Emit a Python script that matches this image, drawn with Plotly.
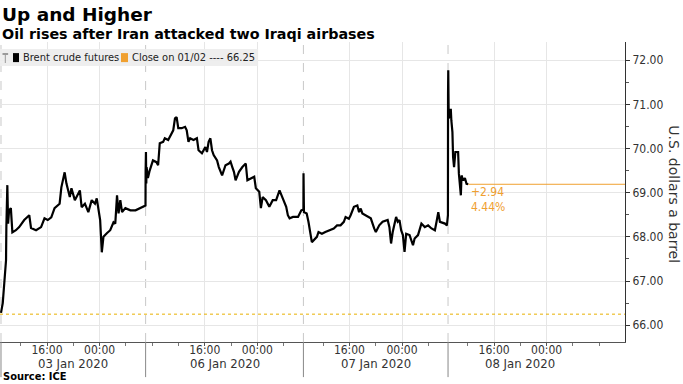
import plotly.graph_objects as go

# ---------------- data ----------------
title = "Up and Higher"
subtitle = "Oil rises after Iran attacked two Iraqi airbases"
source = "Source: ICE"
series_name = "Brent crude futures"
prev_close_label = "Close on 01/02"
prev_close = 66.25
last_change = 2.94
last_change_pct = 4.44
y_title = "U.S. dollars a barrel"

times = [
    # 03 Jan session
    "2020-01-03 09:00", "2020-01-03 09:16", "2020-01-03 09:30", "2020-01-03 09:40", "2020-01-03 09:46",
    "2020-01-03 09:49", "2020-01-03 09:58", "2020-01-03 10:05", "2020-01-03 10:14", "2020-01-03 10:30",
    "2020-01-03 10:44", "2020-01-03 11:16", "2020-01-03 11:46", "2020-01-03 12:32", "2020-01-03 13:18",
    "2020-01-03 13:34", "2020-01-03 14:20", "2020-01-03 15:06", "2020-01-03 15:37", "2020-01-03 16:07",
    "2020-01-03 16:39", "2020-01-03 17:09", "2020-01-03 17:55", "2020-01-03 18:11", "2020-01-03 18:41",
    "2020-01-03 18:57", "2020-01-03 19:28", "2020-01-03 19:43", "2020-01-03 20:14", "2020-01-03 21:00",
    "2020-01-03 21:16", "2020-01-03 21:46", "2020-01-03 22:17", "2020-01-03 22:48", "2020-01-03 23:18",
    "2020-01-03 23:34", "2020-01-03 23:58", "2020-01-04 00:05", "2020-01-04 00:20", "2020-01-04 00:35",
    "2020-01-04 01:06", "2020-01-04 01:37", "2020-01-04 02:07", "2020-01-04 02:23", "2020-01-04 02:39",
    "2020-01-04 02:53", "2020-01-04 03:09", "2020-01-04 03:25", "2020-01-04 03:55", "2020-01-04 04:41",
    "2020-01-04 05:28", "2020-01-04 06:14", "2020-01-04 06:44", "2020-01-04 06:59",
    # 06 Jan session
    "2020-01-06 07:00", "2020-01-06 07:03", "2020-01-06 07:06", "2020-01-06 07:09", "2020-01-06 07:21",
    "2020-01-06 07:37", "2020-01-06 08:07", "2020-01-06 08:39", "2020-01-06 08:54", "2020-01-06 09:09",
    "2020-01-06 09:40", "2020-01-06 09:55", "2020-01-06 10:26", "2020-01-06 10:42", "2020-01-06 11:12",
    "2020-01-06 11:28", "2020-01-06 11:43", "2020-01-06 11:58", "2020-01-06 12:29", "2020-01-06 13:00",
    "2020-01-06 13:15", "2020-01-06 13:31", "2020-01-06 13:46", "2020-01-06 14:17", "2020-01-06 14:48",
    "2020-01-06 15:03", "2020-01-06 15:34", "2020-01-06 16:05", "2020-01-06 16:20", "2020-01-06 16:35",
    "2020-01-06 16:51", "2020-01-06 17:06", "2020-01-06 17:21", "2020-01-06 17:52", "2020-01-06 18:08",
    "2020-01-06 18:38", "2020-01-06 19:09", "2020-01-06 19:40", "2020-01-06 19:55", "2020-01-06 20:11",
    "2020-01-06 20:26", "2020-01-06 20:41", "2020-01-06 21:12", "2020-01-06 21:43", "2020-01-06 22:14",
    "2020-01-06 22:29", "2020-01-06 23:00", "2020-01-06 23:31", "2020-01-06 23:46", "2020-01-07 00:17",
    "2020-01-07 00:32", "2020-01-07 00:48", "2020-01-07 01:18", "2020-01-07 01:49", "2020-01-07 02:20",
    "2020-01-07 02:51", "2020-01-07 03:22", "2020-01-07 03:52", "2020-01-07 04:23", "2020-01-07 04:38",
    "2020-01-07 04:54", "2020-01-07 05:25", "2020-01-07 06:11", "2020-01-07 06:41", "2020-01-07 06:59",
    # 07 Jan session
    "2020-01-07 09:00", "2020-01-07 09:01", "2020-01-07 09:03", "2020-01-07 09:05", "2020-01-07 09:30",
    "2020-01-07 09:46", "2020-01-07 10:17", "2020-01-07 10:32", "2020-01-07 11:03", "2020-01-07 11:18",
    "2020-01-07 11:49", "2020-01-07 12:20", "2020-01-07 13:06", "2020-01-07 13:37", "2020-01-07 14:07",
    "2020-01-07 14:39", "2020-01-07 15:09", "2020-01-07 15:25", "2020-01-07 15:55", "2020-01-07 16:11",
    "2020-01-07 16:41", "2020-01-07 17:12", "2020-01-07 17:28", "2020-01-07 17:43", "2020-01-07 17:58",
    "2020-01-07 18:29", "2020-01-07 19:00", "2020-01-07 19:15", "2020-01-07 19:46", "2020-01-07 20:01",
    "2020-01-07 20:32", "2020-01-07 21:03", "2020-01-07 21:49", "2020-01-07 22:05", "2020-01-07 22:20",
    "2020-01-07 22:35", "2020-01-07 23:06", "2020-01-07 23:21", "2020-01-07 23:37", "2020-01-07 23:52",
    "2020-01-08 00:08", "2020-01-08 00:23", "2020-01-08 00:38", "2020-01-08 01:09", "2020-01-08 01:40",
    "2020-01-08 01:55", "2020-01-08 02:26", "2020-01-08 02:57", "2020-01-08 03:28", "2020-01-08 03:58",
    "2020-01-08 04:29", "2020-01-08 05:00", "2020-01-08 05:15", "2020-01-08 05:31", "2020-01-08 05:46",
    "2020-01-08 06:32", "2020-01-08 06:50", "2020-01-08 06:59",
    # 08 Jan session
    "2020-01-08 09:00", "2020-01-08 09:02", "2020-01-08 09:06", "2020-01-08 09:16", "2020-01-08 09:25",
    "2020-01-08 09:30", "2020-01-08 09:40", "2020-01-08 09:46", "2020-01-08 09:55", "2020-01-08 10:07",
    "2020-01-08 10:32", "2020-01-08 10:39", "2020-01-08 10:48", "2020-01-08 10:57", "2020-01-08 11:03",
    "2020-01-08 11:18", "2020-01-08 11:34", "2020-01-08 11:49", "2020-01-08 12:05",
]

prices = [
    # 03 Jan session
    66.28, 66.50, 66.95, 67.40, 67.47,
    68.22, 69.17, 68.30, 68.60, 68.65,
    68.10, 68.15, 68.22, 68.38, 68.49,
    68.20, 68.15, 68.22, 68.42, 68.38,
    68.44, 68.65, 68.75, 69.12, 69.46,
    69.21, 68.90, 69.10, 68.83, 69.05,
    68.67, 68.75, 68.56, 68.83, 68.75,
    68.87, 68.56, 68.38, 67.65, 68.00,
    68.08, 68.15, 68.33, 68.30, 68.94,
    68.53, 68.83, 68.56, 68.65, 68.60,
    68.60, 68.65, 68.68, 68.71,
    # 06 Jan session
    69.50, 69.92, 69.21, 69.58, 69.33,
    69.50, 69.73, 69.69, 69.62, 70.12,
    70.15, 70.23, 70.19, 70.26, 70.41,
    70.68, 70.71, 70.46, 70.46, 70.49,
    70.41, 70.15, 70.23, 70.19, 70.23,
    69.96, 69.89, 70.03, 69.92, 70.15,
    70.23, 69.96, 69.85, 69.73, 69.58,
    69.39, 69.62, 69.66, 69.70, 69.58,
    69.47, 69.28, 69.47, 69.58, 69.66,
    69.28, 69.33, 69.36, 69.10, 69.02,
    68.65, 68.90, 68.83, 68.68, 68.83,
    68.83, 69.05, 68.87, 68.68, 68.49,
    68.42, 68.45, 68.45, 68.60, 68.62,
    # 07 Jan session
    68.65, 69.44, 68.60, 68.56, 68.53,
    68.34, 67.88, 67.92, 68.00, 68.11,
    68.07, 68.11, 68.15, 68.19, 68.26,
    68.26, 68.34, 68.45, 68.41, 68.49,
    68.68, 68.71, 68.56, 68.64, 68.53,
    68.49, 68.45, 68.42, 68.19, 68.11,
    68.26, 68.34, 68.38, 68.22, 67.85,
    68.11, 68.45, 68.34, 68.38, 68.15,
    68.04, 67.66, 68.07, 68.04, 67.81,
    67.96, 68.04, 68.30, 68.22, 68.26,
    68.19, 68.15, 68.34, 68.56, 68.34,
    68.30, 68.26, 68.49,
    # 08 Jan session
    71.24, 71.77, 70.68, 70.83, 70.90,
    70.64, 70.37, 69.81, 69.58, 69.92,
    69.92, 69.43, 69.20, 68.94, 69.39,
    69.28, 69.33, 69.20, 69.19,
]

# session starts (dashed lines) and date labels
session_starts = ["2020-01-03 09:00", "2020-01-06 07:00", "2020-01-07 09:00", "2020-01-08 09:00"]
session_mids = ["2020-01-03 20:00", "2020-01-06 19:00", "2020-01-07 20:00", "2020-01-08 20:00"]
session_labels = ["03 Jan 2020", "06 Jan 2020", "07 Jan 2020", "08 Jan 2020"]

tick_times = ["2020-01-03 16:00", "2020-01-04 00:00", "2020-01-06 16:00", "2020-01-07 00:00",
              "2020-01-07 16:00", "2020-01-08 00:00", "2020-01-08 16:00", "2020-01-09 00:00"]
tick_labels = ["16:00", "00:00", "16:00", "00:00", "16:00", "00:00", "16:00", "00:00"]
minor_times = ["2020-01-03 12:00", "2020-01-03 20:00", "2020-01-04 04:00",
               "2020-01-06 08:00", "2020-01-06 12:00", "2020-01-06 20:00", "2020-01-07 04:00",
               "2020-01-07 12:00", "2020-01-07 20:00", "2020-01-08 04:00",
               "2020-01-08 12:00", "2020-01-08 20:00", "2020-01-09 04:00", "2020-01-09 08:00"]
x_range = ["2020-01-03 08:51", "2020-01-09 11:55"]
y_range = [65.62, 72.41]
y_ticks = [66, 67, 68, 69, 70, 71, 72]

# ---------------- styling ----------------
FONT = "DejaVu Sans Condensed, DejaVu Sans, sans-serif"
WIDE = "DejaVu Sans, sans-serif"
ORANGE = "#f0a030"
GRID = "#e6e6e6"
TXT = "#333333"

fig = go.Figure()
fig.add_trace(go.Scatter(x=times, y=prices, mode="lines",
                         line=dict(color="#000000", width=2.2), name=series_name,
                         hoverinfo="x+y"))
# last price line
fig.add_trace(go.Scatter(x=[times[-1], x_range[1]], y=[prices[-1], prices[-1]], mode="lines",
                         line=dict(color=ORANGE, width=1), hoverinfo="skip"))

shapes = []
# previous close dotted line
shapes.append(dict(type="line", xref="paper", yref="y", x0=0, x1=1, y0=prev_close, y1=prev_close,
                   line=dict(color="#e8b000", width=1, dash="dot"), layer="above"))
for s in session_starts:
    shapes.append(dict(type="line", xref="x", yref="paper", x0=s, x1=s, y0=0, y1=1,
                       line=dict(color="#c8c8c8", width=1, dash="dash"), layer="below"))
    shapes.append(dict(type="line", xref="x", yref="paper", x0=s, x1=s, y0=0, y1=-0.117,
                       line=dict(color="#888888", width=1)))
# legend bar
shapes.append(dict(type="rect", xref="paper", yref="paper", x0=0, x1=0.413, y0=0.92, y1=0.977,
                   fillcolor="rgba(236,236,236,0.9)", line=dict(width=0), layer="above"))
shapes.append(dict(type="rect", xref="paper", yref="paper", x0=0.0208, x1=0.0304, y0=0.933, y1=0.963,
                   fillcolor="#000000", line=dict(width=0), layer="above"))
shapes.append(dict(type="rect", xref="paper", yref="paper", x0=0.1936, x1=0.2048, y0=0.933, y1=0.963,
                   fillcolor=ORANGE, line=dict(width=0), layer="above"))
shapes.append(dict(type="line", xref="paper", yref="paper", x0=0.0085, x1=0.0085, y0=0.930, y1=0.960,
                   line=dict(color="#9a9a9a", width=1), layer="above"))
shapes.append(dict(type="line", xref="paper", yref="paper", x0=0.004, x1=0.013, y0=0.960, y1=0.960,
                   line=dict(color="#9a9a9a", width=2), layer="above"))

annotations = [
    dict(text=f"<b>{title}</b>", xref="paper", yref="paper", x=0, y=1.093, xanchor="left",
         yanchor="middle", showarrow=False, font=dict(family=WIDE, size=18.5, color="#000")),
    dict(text=f"<b>{subtitle}</b>", xref="paper", yref="paper", x=0, y=1.027, xanchor="left",
         yanchor="middle", showarrow=False, font=dict(family=WIDE, size=14.3, color="#000")),
    dict(text=f"<b>{source}</b>", xref="paper", yref="paper", x=0.002, y=-0.115, xanchor="left",
         yanchor="middle", showarrow=False, font=dict(family=FONT, size=11, color="#000")),
    dict(text=series_name, xref="paper", yref="paper", x=0.0336, y=0.948, xanchor="left",
         yanchor="middle", showarrow=False, font=dict(family=FONT, size=11, color="#222")),
    dict(text=f"{prev_close_label} ---- {prev_close:.2f}", xref="paper", yref="paper", x=0.208, y=0.948,
         xanchor="left", yanchor="middle", showarrow=False, font=dict(family=FONT, size=11, color="#222")),
    dict(text=f"+{last_change:.2f}", xref="x", yref="y", x=times[-1], y=69.01, xanchor="left",
         yanchor="middle", xshift=1, showarrow=False, font=dict(family=FONT, size=12, color=ORANGE)),
    dict(text=f"{last_change_pct:.2f}%", xref="x", yref="y", x=times[-1], y=68.67, xanchor="left",
         yanchor="middle", xshift=1, showarrow=False, font=dict(family=FONT, size=12, color=ORANGE)),
    dict(text=y_title, xref="paper", yref="paper", x=1.078, y=0.493, xanchor="center",
         yanchor="middle", textangle=90, showarrow=False, font=dict(family=WIDE, size=14, color=TXT)),
]
for m, lab in zip(session_mids, session_labels):
    annotations.append(dict(text=lab, xref="x", yref="paper", x=m, y=-0.07, xanchor="center",
                            yanchor="middle", showarrow=False, font=dict(family=FONT, size=13, color=TXT)))

fig.update_layout(
    width=683, height=384,
    margin=dict(l=0, r=58, t=42, b=42),
    paper_bgcolor="white", plot_bgcolor="white",
    showlegend=False,
    shapes=shapes, annotations=annotations,
    xaxis=dict(
        type="date", range=x_range,
        rangebreaks=[dict(values=["2020-01-04 07:00:00"], dvalue=48 * 3600 * 1000),
                     dict(values=["2020-01-07 07:00:00", "2020-01-08 07:00:00"], dvalue=2 * 3600 * 1000)],
        tickmode="array", tickvals=tick_times, ticktext=tick_labels,
        showgrid=True, gridcolor=GRID, gridwidth=1,
        showline=True, linecolor="#555", linewidth=1,
        ticks="outside", ticklen=3, tickcolor="#555",
        ticklabelstandoff=-6,
        tickfont=dict(family=FONT, size=12, color=TXT),
        minor=dict(tickvals=minor_times, ticks="outside", ticklen=3, tickcolor="#777", showgrid=False),
        zeroline=False,
    ),
    yaxis=dict(
        side="right", range=y_range,
        tickmode="array", tickvals=y_ticks, tickformat=".2f",
        showgrid=True, gridcolor=GRID, gridwidth=1,
        showline=True, linecolor="#333", linewidth=1,
        ticks="outside", ticklen=4, tickcolor="#333",
        tickfont=dict(family=FONT, size=12, color=TXT),
        minor=dict(dtick=0.5, ticks="outside", ticklen=3, tickcolor="#555", showgrid=False),
        zeroline=False,
    ),
)

fig.write_html("out.html", config={"displayModeBar": False},
               post_script="document.body.style.margin='0px';document.body.style.overflow='hidden';")
